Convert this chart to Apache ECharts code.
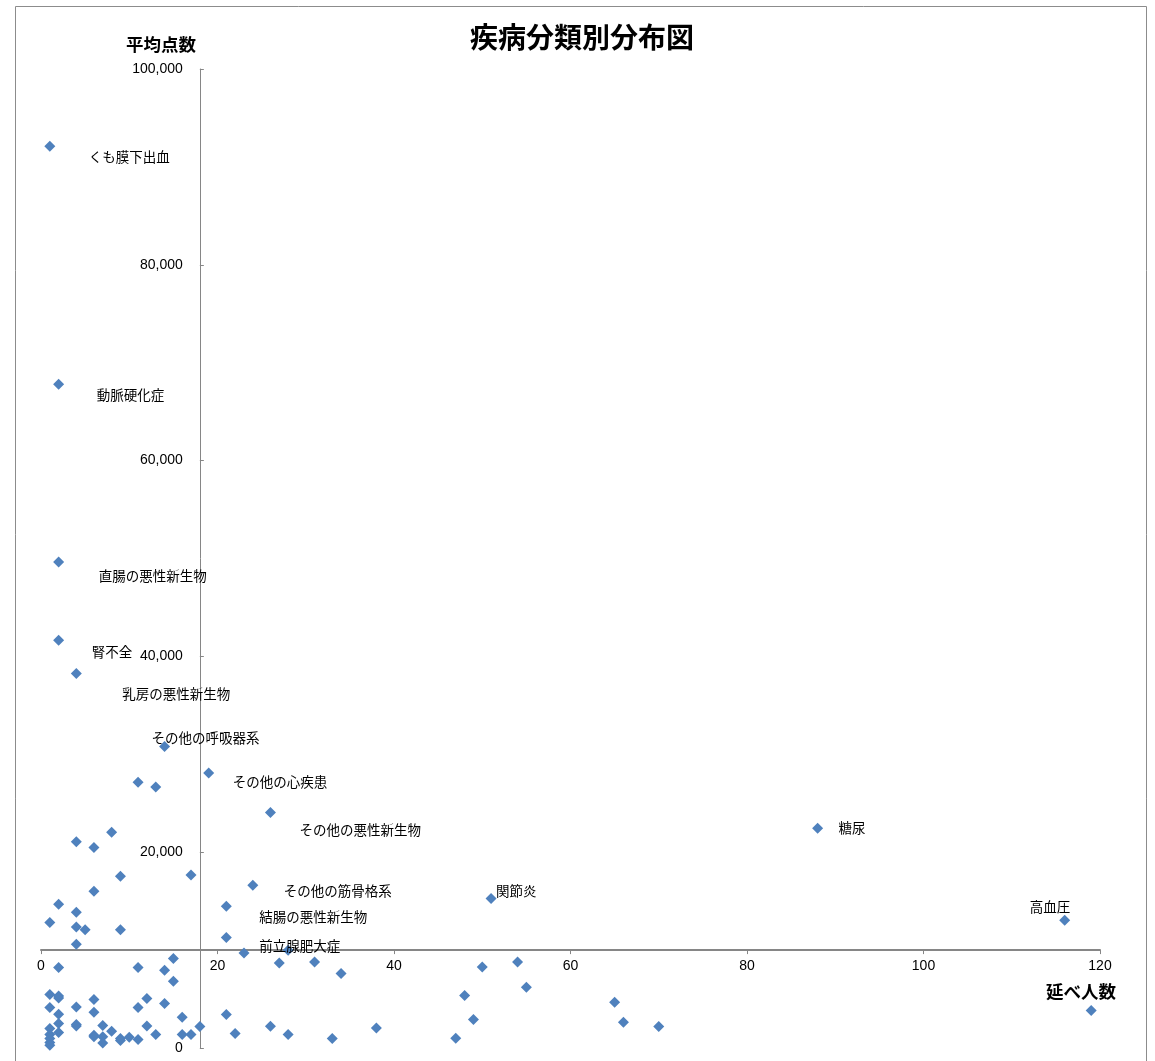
<!DOCTYPE html>
<html>
<head>
<meta charset="utf-8">
<script src="https://cdn.jsdelivr.net/npm/echarts@6/dist/echarts.min.js"></script>
<style>
html,body{margin:0;padding:0;background:#ffffff;}
#chart{width:1155px;height:1061px;}
</style>
</head>
<body>
<div id="chart"></div>
<script>
// ---- data ----
const labeledNames = ['くも膜下出血','動脈硬化症','直腸の悪性新生物','腎不全','乳房の悪性新生物','その他の呼吸器系','その他の心疾患','その他の悪性新生物','糖尿','その他の筋骨格系','関節炎','結腸の悪性新生物','前立腺肥大症','高血圧'];
const labeledCounts = [1, 2, 2, 2, 4, 14, 19, 26, 88, 24, 51, 21, 21, 116];
const labeledScores = [92100, 67800, 49650, 41650, 38250, 30800, 28100, 24050, 22450, 16620, 15260, 14480, 11280, 13050];

const otherCounts = [
  1,1,1,1,1,1,1,1,
  2,2,2,2,2,2,2,
  4,4,4,4,4,4,4,
  5,
  6,6,6,6,6,6,
  7,7,7,
  8,8,
  9,9,9,9,
  10,
  11,11,11,11,
  12,12,
  13,13,
  14,14,
  15,15,
  16,16,
  17,17,
  18,
  21,22,23,26,27,28,28,31,33,34,38,
  47,48,49,50,54,55,65,66,70,119
];
const otherScores = [
  12810,5455,4127,1982,1370,960,552,276,
  14680,8213,5300,5100,3442,2490,1573,
  21080,13860,12360,10590,4190,2400,2250,
  12090,
  20470,16010,4960,3650,1300,1150,
  2300,1150,500,
  22030,1706,
  17540,12090,960,760,
  1093,
  27140,8213,4127,858,
  5046,2247,
  26660,1369,
  7937,4535,
  9130,6813,
  3136,1369,
  17680,1369,
  2186,
  3410,1470,9700,2220,8680,9980,1370,8790,960,7600,2040,
  990,5350,2900,8270,8790,6200,4670,2630,2190,3820
];

const xTicks = [0, 20, 40, 60, 80, 100, 120];
const yTicks = [0, 20000, 40000, 60000, 80000, 100000];
const xCross = 18;      // 縦軸が交差する延べ人数
const yCross = 10000;   // 横軸が交差する平均点数

// ---- style / layout ----
const GRID = { left: 41, top: 69, width: 1059, height: 979 };
const labelPlacement = {   // [dx, dy] of label left/center relative to point
  'くも膜下出血': [39, 11],
  '動脈硬化症': [38, 11],
  '直腸の悪性新生物': [40, 14],
  '腎不全': [33, 12],
  '乳房の悪性新生物': [46, 20],
  'その他の呼吸器系': [-13, -9],
  'その他の心疾患': [24, 9],
  'その他の悪性新生物': [29, 17],
  '糖尿': [21, 0],
  'その他の筋骨格系': [31, 6],
  '関節炎': [5, -8],
  '結腸の悪性新生物': [33, 11],
  '前立腺肥大症': [33, 8],
  '高血圧': [-35, -13]
};
const SYM = 11;
const POINT_COLOR = '#4F81BD';
const AXIS_COLOR = '#868686';

const xMin = xTicks[0], xMax = xTicks[xTicks.length - 1], xInt = xTicks[1] - xTicks[0];
const yMin = yTicks[0], yMax = yTicks[yTicks.length - 1], yInt = yTicks[1] - yTicks[0];

const data = [];
otherCounts.forEach((c, i) => data.push({ value: [c, otherScores[i]] }));
labeledNames.forEach((n, i) => {
  const p = labelPlacement[n];
  data.push({
    name: n,
    value: [labeledCounts[i], labeledScores[i]],
    label: {
      show: true,
      formatter: '{b}',
      position: [p[0] + SYM / 2, p[1] + SYM / 2],
      align: 'left',
      verticalAlign: 'middle'
    }
  });
});

const chart = echarts.init(document.getElementById('chart'), null, { renderer: 'canvas' });
const option = {
  animation: false,
  backgroundColor: '#ffffff',
  grid: {
    left: GRID.left, top: GRID.top, width: GRID.width, height: GRID.height,
    containLabel: false, outerBoundsMode: 'none'
  },
  xAxis: {
    type: 'value',
    min: xMin, max: xMax, interval: xInt,
    position: 'bottom',
    offset: -(yCross - yMin) / (yMax - yMin) * GRID.height,
    axisLine: { show: true, onZero: false, lineStyle: { color: AXIS_COLOR, width: 2 } },
    axisTick: { show: true, inside: false, length: 4, lineStyle: { color: AXIS_COLOR } },
    axisLabel: { margin: 9, fontSize: 14, color: '#000', fontFamily: 'Liberation Sans, Arial, sans-serif' },
    splitLine: { show: false }
  },
  yAxis: {
    type: 'value',
    min: yMin, max: yMax, interval: yInt,
    position: 'left',
    offset: -(xCross - xMin) / (xMax - xMin) * GRID.width,
    axisLine: { show: true, onZero: false, lineStyle: { color: AXIS_COLOR, width: 1 } },
    axisTick: { show: true, inside: true, length: 4, lineStyle: { color: AXIS_COLOR } },
    axisLabel: {
      margin: 17, fontSize: 14, color: '#000', fontFamily: 'Liberation Sans, Arial, sans-serif',
      formatter: v => v.toLocaleString('en-US')
    },
    splitLine: { show: false }
  },
  series: [{
    type: 'scatter',
    symbol: 'diamond',
    symbolSize: SYM,
    itemStyle: { color: POINT_COLOR, opacity: 1 },
    label: { show: false, fontSize: 13.5, color: '#000', fontFamily: '"Noto Sans CJK JP", sans-serif' },
    emphasis: { disabled: true },
    data: data
  }],
  graphic: [
    {
      type: 'rect', silent: true, z: -10,
      shape: { x: 15.5, y: 6.5, width: 1131, height: 1100 },
      style: { fill: null, stroke: '#8c8c8c', lineWidth: 1 }
    },
    {
      type: 'text', silent: true, x: 582, y: 37,
      style: { text: '疾病分類別分布図', font: 'bold 28px "Noto Sans CJK JP", sans-serif', fill: '#000', textAlign: 'center', textVerticalAlign: 'middle' }
    },
    {
      type: 'text', silent: true, x: 161, y: 44,
      style: { text: '平均点数', font: 'bold 17.5px "Noto Sans CJK JP", sans-serif', fill: '#000', textAlign: 'center', textVerticalAlign: 'middle' }
    },
    {
      type: 'text', silent: true, x: 1081, y: 991,
      style: { text: '延べ人数', font: 'bold 17.5px "Noto Sans CJK JP", sans-serif', fill: '#000', textAlign: 'center', textVerticalAlign: 'middle' }
    }
  ]
};
chart.setOption(option);
</script>
</body>
</html>
